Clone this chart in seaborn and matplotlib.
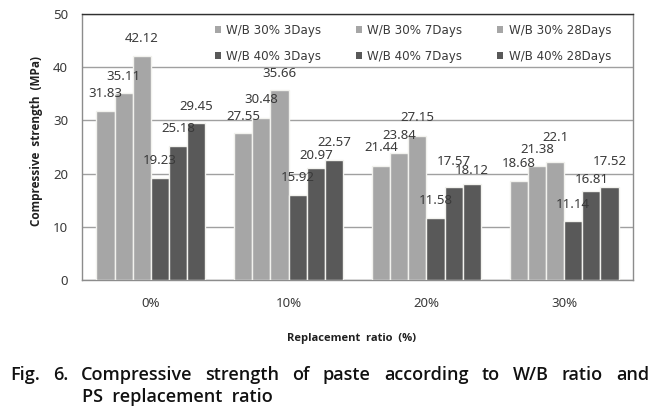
import matplotlib
matplotlib.use("Agg")
import matplotlib.pyplot as plt
import seaborn as sns
import pandas as pd
from matplotlib.patches import Patch

categories = ["0%", "10%", "20%", "30%"]
series = ["W/B 30% 3Days", "W/B 30% 7Days", "W/B 30% 28Days",
          "W/B 40% 3Days", "W/B 40% 7Days", "W/B 40% 28Days"]
wb30_3 = [31.83, 27.55, 21.44, 18.68]
wb30_7 = [35.11, 30.48, 23.84, 21.38]
wb30_28 = [42.12, 35.66, 27.15, 22.1]
wb40_3 = [19.23, 15.92, 11.58, 11.14]
wb40_7 = [25.18, 20.97, 17.57, 16.81]
wb40_28 = [29.45, 22.57, 18.12, 17.52]
yticks = [0, 10, 20, 30, 40, 50]

# label lift above bar top, in pixels (per series, per category)
label_lift = [
    [17, 17, 18, 17],
    [17, 18, 18, 17],
    [17, 17, 18, 25],
    [17, 18, 18, 16],
    [18, 13, 25, 11],
    [17, 17, 13, 25],
]

values = [wb30_3, wb30_7, wb30_28, wb40_3, wb40_7, wb40_28]
rows = []
for s, vals in zip(series, values):
    for c, v in zip(categories, vals):
        rows.append({"cat": c, "series": s, "val": v})
df = pd.DataFrame(rows)

light = "#a6a6a6"
dark = "#595959"
palette = {s: (light if "30%" in s else dark) for s in series}

sns.set_theme(style="white")
plt.rcParams["font.family"] = ["Noto Sans", "DejaVu Sans"]

W, H = 665, 412
fig = plt.figure(figsize=(W/100, H/100), dpi=100)
ax = fig.add_axes([82/W, 1-280/H, (633-82)/W, (280-14)/H])

sns.barplot(data=df, x="cat", y="val", hue="series", order=categories,
            hue_order=series, palette=palette, width=0.79, gap=0,
            edgecolor="#f2f2ee", linewidth=1.0, ax=ax, legend=False, zorder=3)

for si, cont in enumerate(ax.containers):
    for ci, bar in enumerate(cont):
        h = bar.get_height()
        ax.annotate(f"{h:g}", (bar.get_x() + bar.get_width()/2, h),
                    xytext=(0, label_lift[si][ci]*0.72), textcoords="offset points",
                    ha="center", va="center", fontsize=9.5, color="#3a3a3a",
                    zorder=5)

ax.set_ylim(0, 50)
ax.set_yticks(yticks)
ax.set_xlim(-0.5, 3.5)
ax.yaxis.grid(True, color="#a0a0a0", linewidth=1.0, zorder=0)
ax.set_axisbelow(True)
for side in ["left", "right", "bottom"]:
    ax.spines[side].set_color("#8c8c8c")
    ax.spines[side].set_linewidth(1.0)
ax.spines["top"].set_color("#303030")
ax.spines["top"].set_linewidth(1.0)
ax.tick_params(axis="x", length=0, pad=12, labelsize=9.5, labelcolor="#3a3a3a")
ax.tick_params(axis="y", length=0, pad=10, labelsize=9.5, labelcolor="#3a3a3a")

bold_fam = ["Open Sans", "DejaVu Sans"]
ax.set_xlabel("Replacement  ratio  (%)", fontsize=8, fontweight="bold",
              family=bold_fam, color="#202020")
ax.xaxis.set_label_coords((352-82)/551, (280-338)/266)
ax.xaxis.label.set_va("center")
ax.set_ylabel("Compressive  strength  (MPa)", fontsize=8.5, fontweight="bold",
              family=bold_fam, color="#202020")
ax.yaxis.set_label_coords((37-82)/551, (280-141)/266)
ax.yaxis.label.set_va("center")

handles = []
order = [0, 3, 1, 4, 2, 5]
for i in order:
    handles.append(Patch(facecolor=palette[series[i]], edgecolor="none",
                         label=series[i]))
leg = ax.legend(handles=handles, ncol=3, loc="upper left",
                bbox_to_anchor=((215-82)/551, 1-(24-14)/266), frameon=False,
                prop={"family": "DejaVu Sans", "size": 8.6},
                handlelength=0.5, handleheight=0.5, handletextpad=0.45,
                columnspacing=2.9, labelspacing=1.05, borderpad=0,
                borderaxespad=0)
for t in leg.get_texts():
    t.set_color("#3a3a3a")

# caption, line 1 justified between x=10 and x=649
cap_font = dict(fontsize=13, fontweight="semibold", family=["Open Sans", "DejaVu Sans"],
                color="#111111", va="baseline", ha="left")
words = ["Fig.", "6.", "Compressive", "strength", "of", "paste", "according",
         "to", "W/B", "ratio", "and"]
fig.canvas.draw()
renderer = fig.canvas.get_renderer()
texts = [fig.text(0, 0, w, **cap_font) for w in words]
widths = [t.get_window_extent(renderer).width for t in texts]
x0, x1 = 10, 649
gap = (x1 - x0 - sum(widths)) / (len(words) - 1)
x = x0
for t, wd in zip(texts, widths):
    t.set_position((x/W, 1-380/H))
    x += wd + gap
fig.text(82/W, 1-402/H, "PS  replacement  ratio", **cap_font)

fig.savefig("out.png", dpi=100)
